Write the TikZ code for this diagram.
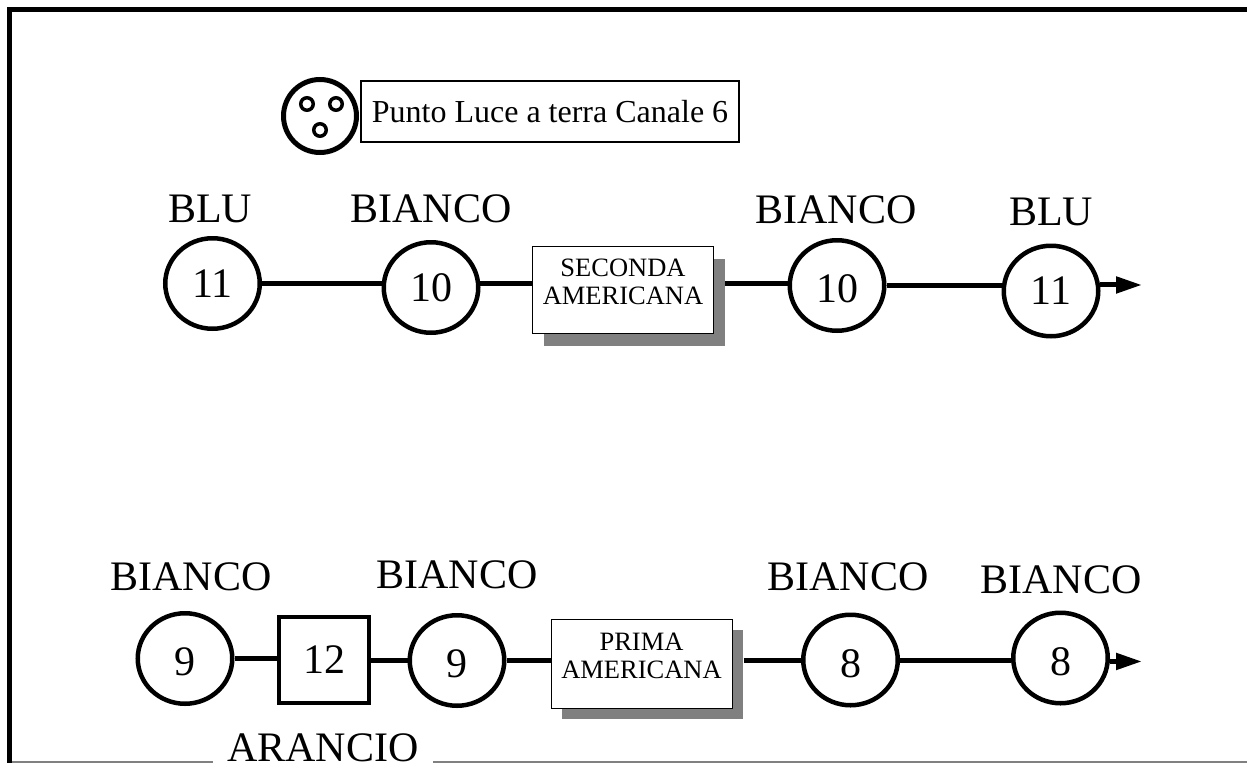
\documentclass[tikz,border=0pt]{standalone}
\usepackage{fontspec}
\setmainfont{Liberation Serif}
\usetikzlibrary{shadows,arrows.meta,shapes.geometric}
\tikzset{
  ringnode/.style={ellipse,draw,line width=4.5pt,minimum width=94.5pt,minimum height=90.5pt,inner sep=0pt,font=\fontsize{42}{42}\selectfont},
  lownum/.style={text height=34pt,text depth=0pt},
  squarenode/.style={rectangle,draw,line width=4pt,minimum width=90pt,minimum height=86pt,inner sep=0pt,font=\fontsize{42}{42}\selectfont},
  colourlabel/.style={font=\fontsize{42}{42}\selectfont,inner sep=0pt},
  benchnode/.style={rectangle,draw,line width=1pt,fill=white,align=center,inner sep=0pt,
    minimum width=181pt,font=\fontsize{26.5}{28}\selectfont,
    drop shadow={shadow xshift=11pt,shadow yshift=-#1,fill=black!50,opacity=1}},
  holenode/.style={circle,draw,line width=3.5pt,minimum size=12.5pt,inner sep=0pt},
  wire/.style={line width=5pt},
  wiretip/.style={wire,-{Triangle[length=26pt,width=16pt]}}
}
\begin{document}
\begin{tikzpicture}[x=1pt,y=-1pt,line join=miter]
  \useasboundingbox (0,0) rectangle (1247,763);
  % frame
  \fill[white] (0,0) rectangle (1247,763);
  \draw[line width=1.5pt,black!50] (12,762) -- (1247,762);
  \draw[line width=5.5pt] (1247,9.5) -- (9.5,9.5) -- (9.5,763);
  % legend
  \node[circle,draw,line width=5pt,minimum size=73pt,inner sep=0pt] (lamp) at (320,116) {};
  \node[holenode] (holea) at (307,104) {};
  \node[holenode] (holeb) at (336,104) {};
  \node[holenode] (holec) at (320,130) {};
  \node[rectangle,draw,line width=1.3pt,minimum width=378pt,minimum height=61pt,inner sep=0pt,font=\fontsize{32}{32}\selectfont] (legend) at (550,111.5) {Punto Luce a terra Canale 6\hspace{8pt}};
  % first row
  \node[ringnode] (blua) at (212.5,283.5) {11};
  \node[ringnode] (biancoa) at (431,287.5) {10};
  \node[benchnode=13pt,minimum height=87pt] (seconda) at (623,289.5) {SECONDA\\AMERICANA\\[-13pt]};
  \node[ringnode,lownum] (biancob) at (837,285.5) {10};
  \node[ringnode] (blub) at (1051,291) {11};
  \coordinate (enda) at (1142,285);
  \node[colourlabel] (lblua) at (210,209) {BLU};
  \node[colourlabel] (lbiancoa) at (431,209) {BIANCO};
  \node[colourlabel] (lbiancob) at (836,210) {BIANCO};
  \node[colourlabel] (lblub) at (1051,212) {BLU};
  \draw[wire] (blua.east) -- (blua.east -| biancoa.west);
  \draw[wire] (biancoa.5) -- (biancoa.5 -| seconda.west);
  \draw[wire] ([xshift=11pt]biancob.178 -| seconda.east) -- (biancob.178);
  \draw[wire] (biancob.east) -- (biancob.east -| blub.west);
  \draw[wiretip] (blub.7) -- (blub.7 -| enda);
  % second row
  \node[ringnode,lownum] (ninea) at (185,658.5) {9};
  \node[squarenode] (arancio) at (324,660) {12};
  \node[ringnode,lownum] (nineb) at (457,660.5) {9};
  \node[benchnode=11pt,minimum height=89pt] (prima) at (641.5,663.5) {PRIMA\\AMERICANA\\[-13pt]};
  \node[ringnode,lownum] (eighta) at (850.5,660) {8};
  \node[ringnode,lownum] (eightb) at (1060.5,658) {8};
  \coordinate (endb) at (1142,661.7);
  \node[colourlabel] (lninea) at (191,577) {BIANCO};
  \node[colourlabel] (lnineb) at (457,575) {BIANCO};
  \node[colourlabel] (leighta) at (848,577) {BIANCO};
  \node[colourlabel] (leightb) at (1061,580) {BIANCO};
  \node[colourlabel,fill=white,inner xsep=14pt,text depth=3pt,anchor=base] (larancio) at (323,761) {ARANCIO};
  \draw[wire] (ninea.east) -- (ninea.east -| arancio.west);
  \draw[wire] (arancio.east) -- (arancio.east -| nineb.west);
  \draw[wire] (nineb.east) -- (nineb.east -| prima.west);
  \draw[wire] ([xshift=11pt]eighta.west -| prima.east) -- (eighta.west);
  \draw[wire] (eighta.east) -- (eighta.east -| eightb.west);
  \draw[wiretip] (eightb.-4) -- (eightb.-4 -| endb);
\end{tikzpicture}
\end{document}
